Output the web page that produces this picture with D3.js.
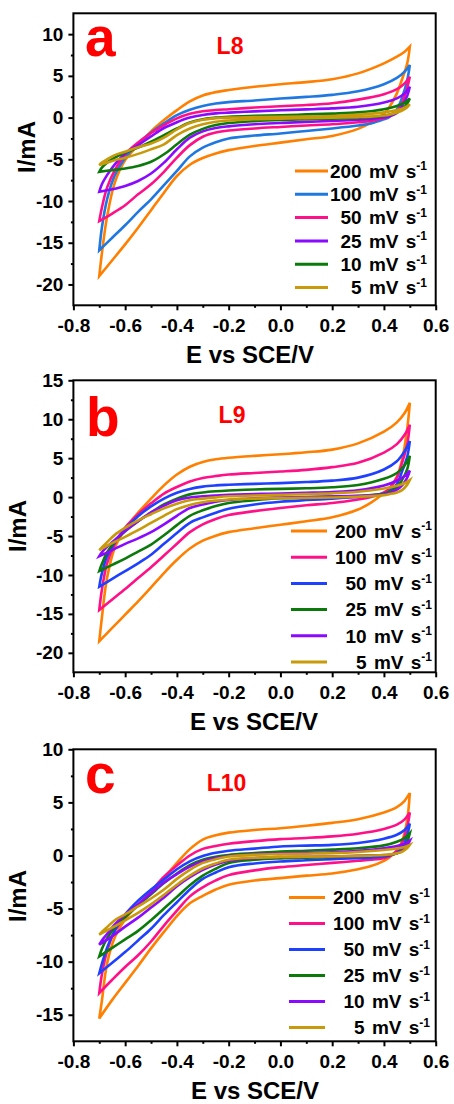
<!DOCTYPE html>
<html>
<head>
<meta charset="utf-8">
<script src="https://cdn.jsdelivr.net/npm/d3@7"></script>
<style>
  html, body { margin: 0; padding: 0; background: #fff; }
  svg { display: block; font-family: "Liberation Sans", Arial, Helvetica, sans-serif; font-weight: bold; }
</style>
</head>
<body>
<svg id="fig" width="454" height="1104"></svg>
<script>
// Potential grids (V vs SCE) for the anodic (forward) and cathodic (reverse) sweeps
const anodicE   = [-0.70,-0.69,-0.67,-0.64,-0.60,-0.55,-0.50,-0.45,-0.40,-0.35,-0.30,-0.25,-0.20,-0.10,0.00,0.10,0.20,0.30,0.40,0.45,0.48,0.50];
const cathodicE = [0.50,0.49,0.47,0.45,0.42,0.40,0.35,0.30,0.20,0.10,0.00,-0.10,-0.20,-0.25,-0.30,-0.35,-0.40,-0.45,-0.50,-0.55,-0.60,-0.65,-0.70];

// Scan rates, in legend order
const scanRates = ["200", "100", "50", "25", "10", "5"];

// Axis ticks
const xTicks = [-0.8,-0.6,-0.4,-0.2,0.0,0.2,0.4,0.6];
const xMinor = [-0.7,-0.5,-0.3,-0.1,0.1,0.3,0.5];
const l8YTicks  = [-20,-15,-10,-5,0,5,10];
const l8YMinor  = [-17.5,-12.5,-7.5,-2.5,2.5,7.5];
const l9YTicks  = [-20,-15,-10,-5,0,5,10,15];
const l9YMinor  = [-17.5,-12.5,-7.5,-2.5,2.5,7.5,12.5];
const l10YTicks = [-15,-10,-5,0,5,10];
const l10YMinor = [-12.5,-7.5,-2.5,2.5,7.5];

// Current (mA), one row per scan rate: 200, 100, 50, 25, 10, 5 mV/s
const l8Anodic = [
  [-19.0,-16.3,-11.9,-7.8,-5.1,-3.3,-1.65,-0.3,0.9,1.95,2.65,3.05,3.3,3.7,4.0,4.25,4.6,5.3,6.5,7.3,7.9,8.5],
  [-15.9,-13.2,-9.8,-6.9,-4.8,-3.1,-1.8,-0.7,0.3,0.95,1.4,1.68,1.85,2.05,2.28,2.48,2.72,3.15,4.0,4.75,5.5,6.3],
  [-12.4,-10.8,-8.4,-6.3,-4.4,-3.0,-1.85,-0.9,-0.1,0.45,0.75,0.9,1.0,1.2,1.36,1.5,1.72,2.15,2.8,3.4,4.1,4.9],
  [-8.9,-8.0,-6.9,-5.6,-4.3,-3.3,-2.25,-1.25,-0.55,0.0,0.32,0.5,0.6,0.75,0.88,0.98,1.1,1.3,1.8,2.3,2.9,3.7],
  [-6.5,-6.0,-5.4,-4.8,-4.2,-3.6,-2.9,-2.1,-1.3,-0.6,-0.2,0.0,0.1,0.2,0.28,0.38,0.48,0.62,1.0,1.4,1.8,2.3],
  [-5.7,-5.4,-5.0,-4.5,-4.1,-3.55,-3.1,-2.4,-1.4,-0.65,-0.25,-0.08,0.0,0.05,0.08,0.12,0.18,0.35,0.62,0.9,1.2,1.6]
];
const l8Cathodic = [
  [8.5,6.5,4.6,2.9,1.2,0.45,-0.6,-1.35,-2.2,-2.6,-3.0,-3.4,-3.9,-4.3,-4.85,-5.65,-7.0,-9.0,-11.1,-13.2,-15.2,-17.1,-19.0],
  [6.3,4.5,2.4,1.0,0.05,-0.2,-0.7,-0.95,-1.3,-1.6,-1.9,-2.15,-2.5,-2.95,-3.6,-4.65,-6.4,-8.1,-9.8,-11.3,-12.9,-14.4,-15.9],
  [4.9,3.6,1.75,0.75,0.15,-0.05,-0.4,-0.55,-0.8,-0.95,-1.12,-1.3,-1.55,-1.8,-2.3,-3.3,-4.8,-6.5,-8.0,-9.2,-10.5,-11.5,-12.4],
  [3.7,2.6,1.35,0.55,0.15,0.03,-0.15,-0.26,-0.4,-0.52,-0.65,-0.8,-1.05,-1.25,-1.65,-2.4,-3.8,-5.4,-6.7,-7.6,-8.2,-8.6,-8.9],
  [2.3,1.7,1.0,0.6,0.35,0.22,0.05,-0.03,-0.12,-0.2,-0.28,-0.42,-0.65,-0.9,-1.35,-2.05,-3.2,-4.4,-5.3,-5.8,-6.1,-6.3,-6.5],
  [1.6,1.25,0.85,0.6,0.35,0.25,0.12,0.06,0.0,-0.06,-0.12,-0.2,-0.35,-0.5,-0.8,-1.3,-2.1,-3.2,-3.8,-4.35,-4.8,-5.2,-5.7]
];

const l9Anodic = [
  [-18.5,-15.5,-10.4,-6.5,-4.1,-2.0,-0.2,1.5,2.9,3.9,4.5,4.85,5.05,5.3,5.5,5.75,6.1,6.9,8.4,9.6,10.8,12.1],
  [-14.5,-11.9,-8.5,-6.0,-3.9,-2.2,-0.8,0.45,1.3,2.0,2.45,2.7,2.9,3.1,3.28,3.5,3.85,4.4,5.7,6.8,8.0,9.3],
  [-11.5,-9.8,-7.6,-5.8,-4.1,-2.45,-1.2,-0.2,0.55,1.05,1.35,1.5,1.58,1.7,1.8,1.93,2.12,2.5,3.55,4.6,5.9,7.2],
  [-9.5,-8.6,-7.1,-5.7,-4.4,-3.1,-2.0,-0.95,-0.2,0.35,0.6,0.75,0.85,0.98,1.06,1.13,1.26,1.55,2.35,3.1,4.1,5.3],
  [-7.6,-7.1,-6.4,-5.5,-4.35,-3.1,-1.95,-1.1,-0.4,-0.05,0.1,0.2,0.28,0.4,0.47,0.55,0.65,0.88,1.5,2.1,2.7,3.4],
  [-6.8,-6.45,-5.8,-4.85,-3.95,-3.0,-2.2,-1.45,-0.85,-0.4,-0.2,-0.03,0.1,0.2,0.3,0.38,0.48,0.68,1.1,1.45,1.8,2.2]
];
const l9Cathodic = [
  [12.1,8.8,4.8,2.6,1.05,0.5,-0.7,-1.6,-2.6,-3.1,-3.55,-4.0,-4.5,-4.95,-5.6,-6.6,-8.05,-9.75,-11.6,-13.4,-15.1,-16.8,-18.5],
  [9.3,6.8,4.4,2.5,1.1,0.6,0.0,-0.3,-0.75,-1.05,-1.4,-1.8,-2.3,-2.8,-3.5,-4.5,-6.0,-7.5,-9.0,-10.4,-11.8,-13.15,-14.5],
  [7.2,5.2,3.3,1.7,0.7,0.4,0.15,0.03,-0.2,-0.38,-0.6,-0.95,-1.5,-2.0,-2.6,-3.3,-4.6,-6.0,-7.4,-8.5,-9.5,-10.5,-11.5],
  [5.3,3.6,2.2,1.25,0.65,0.45,0.25,0.15,0.08,-0.03,-0.15,-0.4,-0.75,-1.15,-1.7,-2.4,-3.6,-4.9,-6.1,-7.0,-7.9,-8.7,-9.5],
  [3.4,2.5,1.5,0.95,0.5,0.35,0.22,0.16,0.08,0.02,-0.05,-0.15,-0.38,-0.6,-0.95,-1.4,-2.4,-3.5,-4.5,-5.3,-6.0,-6.8,-7.6],
  [2.2,1.6,0.9,0.6,0.38,0.25,0.12,0.05,-0.05,-0.1,-0.13,-0.2,-0.3,-0.45,-0.65,-1.0,-1.55,-2.4,-3.3,-4.25,-5.1,-5.9,-6.8]
];

const l10Anodic = [
  [-15.35,-13.7,-10.2,-7.7,-6.0,-4.65,-3.4,-2.1,-0.7,0.6,1.5,1.9,2.15,2.4,2.57,2.8,3.07,3.42,4.05,4.55,5.15,5.9],
  [-12.95,-11.2,-9.0,-7.1,-5.8,-4.65,-3.35,-2.0,-0.95,0.0,0.62,0.9,1.1,1.35,1.54,1.65,1.8,2.05,2.5,2.9,3.4,4.05],
  [-11.1,-10.2,-8.7,-7.05,-5.55,-4.25,-3.2,-2.25,-1.3,-0.55,-0.05,0.25,0.45,0.65,0.85,0.93,1.0,1.18,1.58,1.95,2.4,3.0],
  [-9.5,-8.8,-7.8,-6.75,-5.8,-4.7,-3.65,-2.6,-1.7,-0.9,-0.4,-0.12,0.05,0.22,0.38,0.45,0.55,0.68,0.95,1.3,1.65,2.1],
  [-8.4,-8.0,-7.4,-6.5,-5.55,-4.6,-3.55,-2.55,-1.75,-1.05,-0.55,-0.25,-0.05,0.12,0.2,0.25,0.3,0.43,0.68,0.88,1.1,1.4],
  [-7.45,-7.2,-6.75,-6.1,-5.55,-4.8,-4.05,-3.2,-2.2,-1.35,-0.7,-0.35,-0.1,0.07,0.13,0.17,0.22,0.33,0.52,0.66,0.8,1.0]
];
const l10Cathodic = [
  [5.9,3.4,1.35,0.45,-0.2,-0.5,-1.0,-1.3,-1.7,-1.9,-2.13,-2.35,-2.75,-3.2,-3.8,-4.5,-5.7,-7.2,-8.75,-10.4,-12.0,-13.6,-15.35],
  [4.05,2.7,1.2,0.45,-0.1,-0.25,-0.4,-0.5,-0.7,-0.9,-1.1,-1.4,-1.85,-2.35,-3.0,-3.85,-5.2,-6.6,-8.1,-9.4,-10.5,-11.7,-12.95],
  [3.0,1.9,0.7,0.25,0.0,-0.1,-0.2,-0.25,-0.34,-0.45,-0.56,-0.75,-1.1,-1.6,-2.2,-3.2,-4.4,-5.6,-6.9,-8.0,-9.1,-10.1,-11.1],
  [2.1,1.3,0.5,0.2,0.05,0.0,-0.03,-0.05,-0.15,-0.2,-0.27,-0.4,-0.7,-1.25,-1.9,-2.8,-3.9,-5.0,-6.1,-7.1,-7.9,-8.7,-9.5],
  [1.4,0.95,0.45,0.22,0.07,0.03,-0.01,-0.04,-0.09,-0.12,-0.15,-0.25,-0.5,-0.85,-1.35,-2.05,-2.9,-3.95,-4.9,-5.85,-6.7,-7.6,-8.4],
  [1.0,0.7,0.35,0.2,0.09,0.04,-0.01,-0.04,-0.09,-0.12,-0.15,-0.22,-0.4,-0.75,-1.2,-1.9,-2.75,-3.7,-4.6,-5.4,-6.1,-6.8,-7.45]
];

// Line colours per scan rate (200 ... 5 mV/s)
const l8Colors  = ["#FF7F00", "#1F78E1", "#FF1088", "#8A0AFF", "#0B7A0B", "#C8990A"];
const l9Colors  = ["#FF7F00", "#FF1088", "#1E40FF", "#0B7A0B", "#8A0AFF", "#C8990A"];
const l10Colors = ["#FF7F00", "#FF1088", "#1E40FF", "#0B7A0B", "#8A0AFF", "#C8990A"];

// Panel layout
const plotLeft = 73.4, plotRight = 435.7, plotHeight = 292;
const panels = [
  { letter: "a", name: "L8", top: 13.3, yDomain: [-22.5, 12.5], yTicks: l8YTicks, yMinor: l8YMinor,
    anodic: l8Anodic, cathodic: l8Cathodic, colors: l8Colors,
    legendTop: 171, legendStep: 23.3, legendX0: 295, legendX1: 328, legendEnd: 427,
    yTitleX: 27, yTitleY: 147, letterX: 85, letterY: 56, nameX: 230, nameY: 54, xTitleX: 250 },
  { letter: "b", name: "L9", top: 380.3, yDomain: [-22.5, 15], yTicks: l9YTicks, yMinor: l9YMinor,
    anodic: l9Anodic, cathodic: l9Cathodic, colors: l9Colors,
    legendTop: 531, legendStep: 26.2, legendX0: 291, legendX1: 327, legendEnd: 432,
    yTitleX: 18, yTitleY: 526, letterX: 86, letterY: 436, nameX: 232, nameY: 423.3, xTitleX: 254 },
  { letter: "c", name: "L10", top: 749.3, yDomain: [-17.5, 10], yTicks: l10YTicks, yMinor: l10YMinor,
    anodic: l10Anodic, cathodic: l10Cathodic, colors: l10Colors,
    legendTop: 897.5, legendStep: 26, legendX0: 289, legendX1: 325, legendEnd: 430,
    yTitleX: 18, yTitleY: 896, letterX: 85, letterY: 793, nameX: 226.5, nameY: 790.7, xTitleX: 255 }
];

const svg = d3.select("#fig");

panels.forEach(p => {
  const bottom = p.top + plotHeight;
  const x = d3.scaleLinear().domain([-0.8, 0.6]).range([plotLeft, plotRight]);
  const y = d3.scaleLinear().domain(p.yDomain).range([bottom, p.top]);
  const g = svg.append("g");

  // Axes with outward ticks (major + minor)
  g.append("g").attr("transform", `translate(0,${bottom})`)
    .call(d3.axisBottom(x).tickValues(xTicks).tickFormat(d => d.toFixed(1)).tickSize(5).tickPadding(8));
  g.append("g").attr("transform", `translate(0,${bottom})`)
    .call(d3.axisBottom(x).tickValues(xMinor).tickFormat("").tickSize(2.5));
  g.append("g").attr("transform", `translate(${plotLeft},0)`)
    .call(d3.axisLeft(y).tickValues(p.yTicks).tickFormat(d => String(d)).tickSize(5).tickPadding(5));
  g.append("g").attr("transform", `translate(${plotLeft},0)`)
    .call(d3.axisLeft(y).tickValues(p.yMinor).tickFormat("").tickSize(2.5));
  g.selectAll(".domain").remove();
  g.selectAll(".tick line").attr("stroke", "#000").attr("stroke-width", 2);
  g.selectAll(".tick text").attr("fill", "#000").attr("font-size", 19)
    .attr("font-family", "'Liberation Sans', Arial, sans-serif").attr("font-weight", "bold");

  // CV loops: anodic sweep followed by cathodic sweep, drawn as one closed path
  const line = d3.line().x(d => x(d[0])).y(d => y(d[1])).curve(d3.curveCatmullRom.alpha(0.5));
  scanRates.forEach((r, i) => {
    const up = anodicE.map((e, k) => [e, p.anodic[i][k]]);
    const down = cathodicE.map((e, k) => [e, p.cathodic[i][k]]);
    const d = line(up) + line(down).replace(/^M[^A-Za-z]*/, "") + "Z";
    g.append("path").attr("d", d).attr("fill", "none")
      .attr("stroke", p.colors[i]).attr("stroke-width", 2.6)
      .attr("stroke-linejoin", "miter");
  });

  // Frame
  g.append("rect").attr("x", plotLeft).attr("y", p.top)
    .attr("width", plotRight - plotLeft).attr("height", plotHeight)
    .attr("fill", "none").attr("stroke", "#000").attr("stroke-width", 2);

  // Legend
  scanRates.forEach((r, i) => {
    const yy = p.legendTop + i * p.legendStep;
    g.append("line").attr("x1", p.legendX0).attr("x2", p.legendX1)
      .attr("y1", yy).attr("y2", yy).attr("stroke", p.colors[i]).attr("stroke-width", 3);
    const t = g.append("text").attr("x", p.legendEnd).attr("y", yy + 6.8)
      .attr("text-anchor", "end").attr("font-size", 19).attr("word-spacing", "2px").attr("fill", "#000");
    t.append("tspan").text(`${r} mV s`);
    t.append("tspan").attr("font-size", 12).attr("dy", -7.5).text("-1");
  });

  // Panel letter and sample name
  g.append("text").attr("x", p.letterX).attr("y", p.letterY)
    .attr("font-size", 55).attr("fill", "#FF0000").text(p.letter);
  g.append("text").attr("x", p.nameX).attr("y", p.nameY).attr("text-anchor", "middle")
    .attr("font-size", 23).attr("fill", "#FF0000").text(p.name);

  // Axis titles
  g.append("text").attr("x", p.xTitleX).attr("y", bottom + 58).attr("text-anchor", "middle")
    .attr("font-size", 24).attr("fill", "#000").text("E vs SCE/V");
  g.append("text").attr("transform", `translate(${p.yTitleX},${p.yTitleY}) rotate(-90)`)
    .attr("text-anchor", "middle").attr("dy", "0.35em")
    .attr("font-size", 24).attr("fill", "#000").text("I/mA");
});
</script>
</body>
</html>
